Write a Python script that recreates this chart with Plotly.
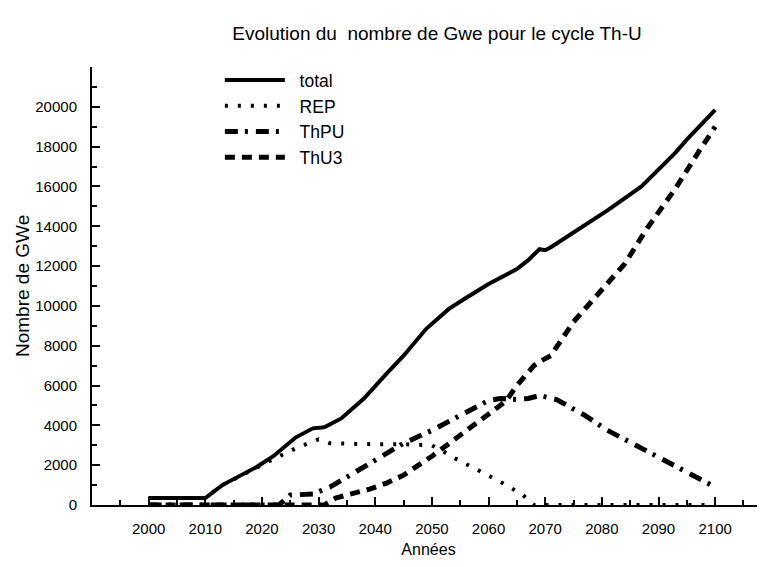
import plotly.graph_objects as go

# ---- data ----
years_total = [2000, 2010, 2013, 2019, 2022, 2026, 2029, 2031, 2034, 2038, 2042, 2045, 2049,
               2053, 2056, 2060, 2065, 2067, 2069, 2070, 2071, 2075, 2081, 2087, 2093, 2095, 2100]
total = [350, 350, 1000, 1900, 2450, 3400, 3850, 3900, 4350, 5350, 6600, 7500, 8850,
         9850, 10400, 11100, 11850, 12300, 12850, 12800, 12950, 13700, 14800, 16000, 17700, 18350, 19850]

years_rep = [2000, 2010, 2013, 2019, 2022, 2026, 2028, 2030, 2032, 2036, 2040, 2045, 2050,
             2052, 2054, 2058, 2062, 2066, 2068, 2100]
rep = [350, 350, 1000, 1900, 2300, 2850, 3100, 3300, 3100, 3050, 3050, 3050, 3000,
       2700, 2350, 1770, 1180, 520, 0, 0]

years_thpu = [2000, 2023, 2025, 2029, 2032, 2036, 2040, 2045, 2050, 2055, 2060, 2062, 2065,
              2067, 2069, 2072, 2077, 2081, 2086, 2091, 2096, 2100]
thpu = [0, 0, 500, 550, 900, 1550, 2250, 3100, 3750, 4500, 5250, 5350, 5300,
        5350, 5500, 5300, 4500, 3750, 3000, 2250, 1450, 900]

years_thu3 = [2000, 2031, 2033, 2036, 2039, 2042, 2045, 2050, 2055, 2060, 2063, 2065, 2068,
              2069, 2071, 2075, 2080, 2084, 2088, 2093, 2097, 2100]
thu3 = [0, 0, 350, 550, 800, 1100, 1500, 2450, 3500, 4500, 5200, 6000, 7000,
        7200, 7500, 9200, 10850, 12100, 13900, 15900, 17700, 19000]

x_tick_vals = list(range(2000, 2101, 10))
y_tick_vals = list(range(0, 20001, 2000))

title_text = "Evolution du\u00a0 nombre de Gwe pour le cycle Th-U"
x_title = "Années"
y_title = "Nombre de GWe"
series_names = ["\u00a0\u00a0total", "\u00a0\u00a0REP", "\u00a0\u00a0ThPU", "\u00a0\u00a0ThU3"]

FONT = "Liberation Sans, Arial, sans-serif"
W, H = 757, 559  # page body has an 8px margin in the viewer
L, R, T, B = 84, 0, 59, 62
plot_w = W - L - R

fig = go.Figure()
fig.add_trace(go.Scatter(x=years_total, y=total, mode="lines", name=series_names[0],
                         line=dict(color="black", width=4)))
fig.add_trace(go.Scatter(x=years_rep, y=rep, mode="lines", name=series_names[1],
                         line=dict(color="black", width=4, dash="3px,10px")))
fig.add_trace(go.Scatter(x=years_thpu, y=thpu, mode="lines", name=series_names[2],
                         line=dict(color="black", width=5, dash="13px,7px,3px,8px")))
fig.add_trace(go.Scatter(x=years_thu3, y=thu3, mode="lines", name=series_names[3],
                         line=dict(color="black", width=5, dash="10px,7px")))

fig.add_annotation(text=y_title, xref="paper", yref="paper",
                   x=(14 - L) / plot_w, y=0.5, xanchor="center", yanchor="middle",
                   textangle=-90, showarrow=False,
                   font=dict(size=19, family=FONT, color="black"))

fig.update_layout(
    width=W, height=H,
    margin=dict(l=L, r=R, t=T, b=B, autoexpand=False),
    paper_bgcolor="white", plot_bgcolor="white",
    font=dict(family=FONT, color="black", size=15),
    title=dict(text=title_text, xref="container", yref="container",
               x=429 / W, y=1 - 25 / H, xanchor="center", yanchor="middle",
               font=dict(size=19, family=FONT, color="black")),
    showlegend=True,
    legend=dict(x=0.19, y=1.011, xanchor="left", yanchor="top",
                bgcolor="rgba(0,0,0,0)", font=dict(size=17.5, family=FONT),
                itemwidth=60, tracegroupgap=0),
    xaxis=dict(range=[1990, 2108.8], showgrid=False, zeroline=False,
               showline=True, linecolor="black", linewidth=2,
               tickmode="array", tickvals=x_tick_vals, ticks="inside",
               ticklen=8, tickwidth=1.5, tickcolor="black",
               tickfont=dict(size=15), ticklabelstandoff=9,
               minor=dict(dtick=5, tick0=1990, ticks="inside", ticklen=5,
                          tickwidth=1.5, tickcolor="black", showgrid=False),
               title=dict(text=x_title, font=dict(size=16), standoff=8)),
    yaxis=dict(range=[0, 22000], showgrid=False, zeroline=False,
               showline=True, linecolor="black", linewidth=2,
               tickmode="array", tickvals=y_tick_vals, ticks="inside",
               tickformat="d",
               ticklen=8, tickwidth=1.5, tickcolor="black",
               tickfont=dict(size=15), ticklabelstandoff=10,
               minor=dict(dtick=1000, tick0=0, ticks="inside", ticklen=5,
                          tickwidth=1.5, tickcolor="black", showgrid=False)),
)

fig.write_html("out.html")
